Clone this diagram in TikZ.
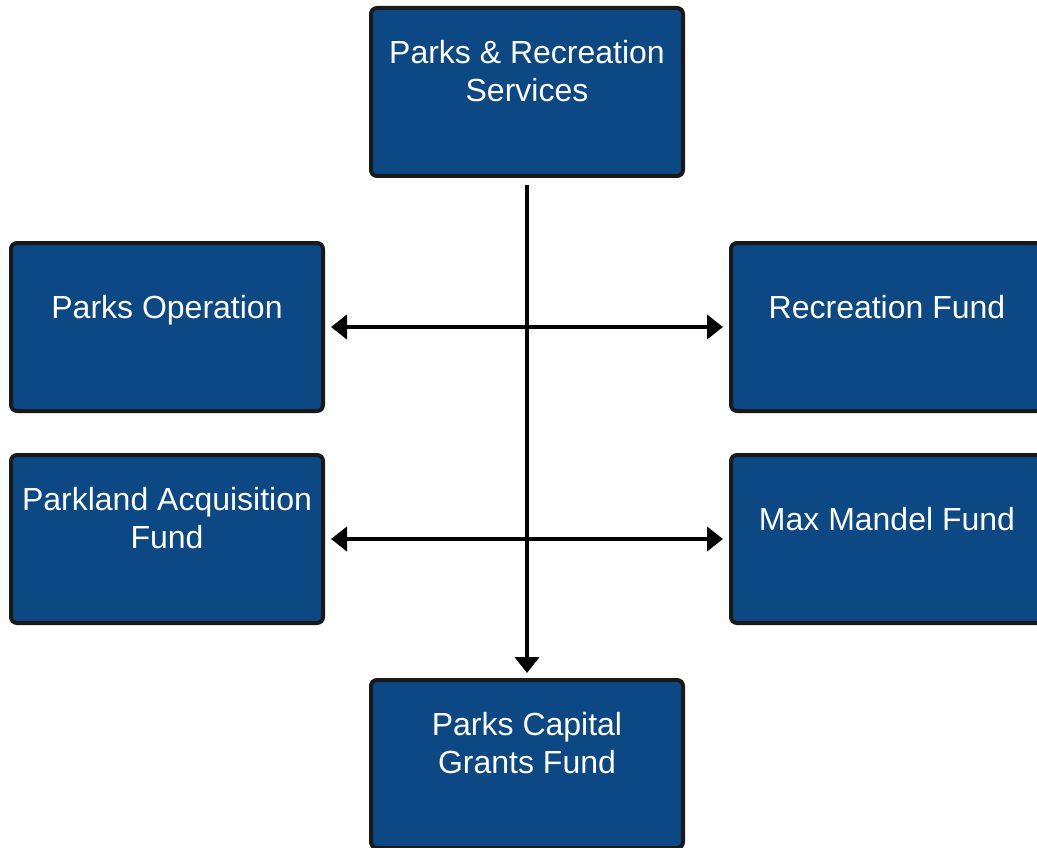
\documentclass[tikz,border=0pt]{standalone}
\usepackage{fontspec}
\setmainfont{Liberation Sans}
\usetikzlibrary{arrows.meta}
\definecolor{deptblue}{RGB}{12,72,132}
\begin{document}
\begin{tikzpicture}[x=1pt,y=-1pt,>={Triangle[length=16pt,width=24pt]},
	fundbox/.style={draw=black!90,line width=4pt,fill=deptblue,rounded corners=6pt,
		minimum width=312pt,minimum height=168pt,inner sep=0pt},
	fundtext/.style={text=white,font=\fontsize{32}{38}\selectfont,align=center,inner sep=0pt},
	link/.style={line width=4pt,<->,shorten <=6pt,shorten >=6pt}]
	\useasboundingbox (0,0) rectangle (1037,848);
	\node[fundbox] (parks) at (527,92) {};
	\node[fundbox] (ops) at (167,327) {};
	\node[fundbox] (rec) at (887,327) {};
	\node[fundbox] (land) at (167,539) {};
	\node[fundbox] (mandel) at (887,539) {};
	\node[fundbox] (capital) at (527,764) {};
	\node[fundtext] (parkstext) at (527,71) {Parks \& Recreation\\Services};
	\node[fundtext,anchor=base] (opstext) at (167,318) {Parks Operation};
	\node[fundtext,anchor=base] (rectext) at (887,318) {Recreation Fund};
	\node[fundtext] (landtext) at (167,518) {Parkland Acquisition\\Fund};
	\node[fundtext,anchor=base] (mandeltext) at (887,530) {Max Mandel Fund};
	\node[fundtext] (capitaltext) at (527,743) {Parks Capital\\Grants Fund};
	\draw[->,line width=4.5pt,shorten <=7pt,shorten >=5pt] (parks.south) -- (capital.north);
	\draw[link] (ops.east) -- (rec.west);
	\draw[link] (land.east) -- (mandel.west);
	%	\draw[dashed] (parks.south) -- (capital.north);
\end{tikzpicture}
\end{document}
